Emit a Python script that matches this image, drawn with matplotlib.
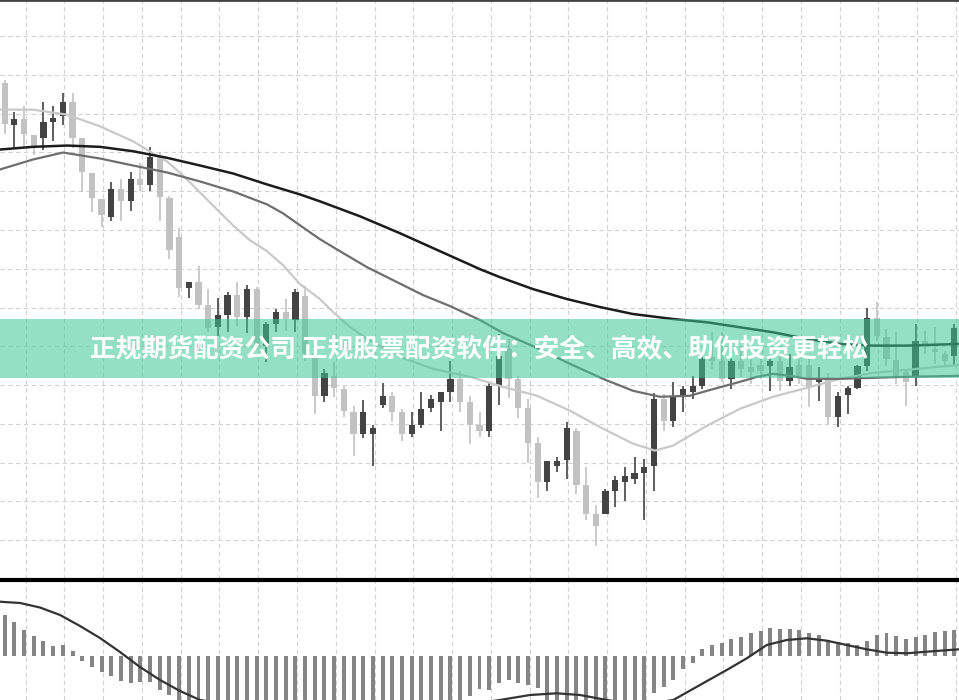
import matplotlib
matplotlib.use('Agg')
import matplotlib.pyplot as plt
import numpy as np

# ---------------- data ----------------
opens  = [517,475,481,465,462,478,484,498,462,426,400,382,410,398,420,414,443,401,362,311,
          317,294,272,284,304,282,310,253,275,287,279,303,245,203,223,210,187,165,165,194,
          203,187,165,174,191,197,207,220,197,174,168,213,250,220,191,156,117,133,139,168,
          113,84,84,107,117,120,126,133,200,178,204,207,213,242,238,220,238,232,234,233,
          238,218,234,234,217,219,182,204,211,233,281,262,239,227,222,258,250,245,243]
highs  = [520,488,494,465,498,494,507,507,462,426,400,417,420,427,436,453,448,403,371,317,
          333,310,301,307,317,314,312,277,290,300,310,313,260,230,237,213,193,199,174,216,
          207,190,187,207,204,207,238,228,203,187,217,265,260,223,200,162,138,142,177,171,
          132,93,109,123,132,142,140,206,205,217,213,223,244,267,267,242,248,240,242,243,
          244,245,240,240,232,226,207,213,234,291,297,270,267,230,275,268,272,248,275]
lows   = [466,453,453,445,450,459,475,452,407,387,372,378,378,388,408,408,378,340,302,301,
          290,267,263,267,273,266,250,237,267,268,267,238,185,197,202,182,143,161,133,191,
          177,158,162,171,187,168,197,187,155,162,162,194,201,181,136,100,107,127,120,104,
          78,52,84,91,97,114,78,107,168,172,187,200,210,230,217,210,222,215,220,208,
          208,213,215,192,198,175,172,185,210,228,258,233,215,193,213,245,235,233,233]
closes = [476,481,466,454,478,482,498,462,427,401,384,410,398,420,414,443,402,349,311,317,
          294,271,284,304,282,310,253,275,287,280,307,245,203,226,211,188,165,187,171,203,
          187,165,174,190,200,207,220,197,174,168,213,243,220,191,156,117,138,138,171,113,
          84,72,107,119,123,126,132,200,178,202,210,213,240,238,220,238,230,227,228,238,
          218,232,221,212,221,182,203,211,233,281,263,240,222,217,258,253,247,238,271]

# moving averages (candle index, price)
ma_long_x = [-0.49,2.92,6.43,9.83,13.24,16.75,20.15,23.56,27.07,30.47,32.54,36.67,40.8,44.92,
             49.05,51.1,54.52,58.03,61.43,64.84,68.97,72.48,75.88,79.29,82.8,86.2,89.6,93.1,98.48]
ma_long_v = [450,452.7,454,452.7,448.3,441.7,434,426,415,405,398,383,366,348,
             330,322,310,300,292,285,280,276.7,271.7,266.7,260,255,253.3,253.3,255]
ma_mid_x = [-0.49,2.92,6.02,9.83,13.24,16.75,20.15,23.56,27.07,28.72,30.47,32.54,34.6,37.39,
            40.07,43.17,45.95,49.05,51.42,54.93,58.34,61.74,64.84,67.63,70.72,72.48,75.88,
            77.64,79.29,81.04,82.8,86.2,89.6,93.1,98.48]
ma_mid_v = [430,440,447,441,434,427,418,408,395,386,374,360,348,332,
            319,304,293,279,266,251,235,220,208,202,203,208,217,
            222,225,223,220,220,221,222,223]
ma_short_x = [-0.49,2.92,6.43,9.83,13.24,15.0,16.75,18.4,20.15,21.9,23.56,25.3,27.07,28.72,
              30.47,32.54,33.88,35.63,37.39,40.8,44.2,48.02,51.42,54.93,58.34,61.74,64.84,
              67.1,68.97,72.48,75.88,79.29,82.8,86.2,89.6,93.1,98.48]
ma_short_v = [490,490,485,473.3,458.3,448,438,424,407,390,374,359,348,334,
              315,300,287,272,260,242,230,222,212,203,188,170,155,
              148,153,173,190,202,211,220,226,229,234]

# MACD histogram
macd_hist = [4.1,3.43,2.6,2.0,1.5,1.0,1.1,0.53,-0.45,-1.13,-1.57,-2.0,-2.47,-2.73,-2.57,-2.6,-3.4,-3.9,-4.6,-5.0,
             -5.4,-5.7,-6.0,-6.2,-6.3,-6.4,-6.4,-6.3,-6.2,-6.1,-6.0,-5.9,-5.8,-5.7,-5.6,-5.5,-5.4,-5.3,-5.2,-5.1,
             -5.0,-4.9,-4.9,-4.8,-4.8,-4.7,-4.7,-4.6,-4.0,-3.33,-3.4,-2.73,-2.4,-2.67,-2.9,-3.17,-4.6,-4.9,-5.1,-5.3,
             -5.4,-5.5,-5.5,-5.4,-5.2,-5.0,-4.7,-3.73,-3.13,-2.4,-1.33,-0.73,0.67,1.1,1.33,1.7,1.87,2.33,2.5,2.83,
             2.7,2.7,2.6,2.33,2.1,1.6,1.43,1.27,1.1,1.53,2.1,2.33,2.0,1.67,1.87,2.1,2.37,2.5,2.6]
sig_x = [-0.49,1.58,3.64,5.71,7.77,9.83,11.9,13.96,16.03,18.09,20.15,28.4,36.67,44.92,51.1,54.21,
         56.97,59.37,62.13,65.56,69.0,71.75,74.51,76.58,78.64,80.71,82.77,84.84,86.9,88.96,91.03,
         93.09,95.15,98.48]
sig_v = [5.43,5.3,4.85,4.1,3.0,1.8,0.4,-1.1,-2.4,-3.5,-4.4,-5.6,-5.9,-5.3,-4.4,-3.9,
         -3.73,-3.9,-4.4,-4.9,-4.4,-2.9,-1.4,-0.23,1.1,1.6,1.77,1.53,1.1,0.67,0.33,
         0.27,0.43,0.67]

banner_text = "正规期货配资公司 正规股票配资软件：安全、高效、助你投资更轻松"

# ---------------- drawing ----------------
W, H = 959, 700
PITCH, X0 = 9.69, 4.7
fig = plt.figure(figsize=(W / 100, H / 100), dpi=100)
fig.patch.set_facecolor('white')
ax = fig.add_axes([0, 121 / H, 1, 579 / H])
axm = fig.add_axes([0, 0, 1, 120 / H])

xlim = (-X0 / PITCH, (W - X0) / PITCH)
idx = np.arange(len(opens))
o = np.array(opens, float); c = np.array(closes, float)
hi = np.array(highs, float); lo = np.array(lows, float)
up = c >= o
DARK, LIGHT = '#434343', '#c2c2c2'
cols = np.where(up, DARK, LIGHT)

ax.vlines(idx, lo, hi, colors=cols, lw=1.2, zorder=2)
body_b = np.minimum(o, c)
body_h = np.maximum(np.abs(c - o), 1.5)
ax.bar(idx, body_h, bottom=body_b, width=0.64, color=cols, lw=0, zorder=3)

ax.plot(ma_short_x, ma_short_v, color='#c9c9c9', lw=1.6, zorder=4, solid_capstyle='round')
ax.plot(ma_mid_x, ma_mid_v, color='#6e6e6e', lw=1.6, zorder=4, solid_capstyle='round')
ax.plot(ma_long_x, ma_long_v, color='#1c1c1c', lw=1.8, zorder=4, solid_capstyle='round')

ax.set_xlim(*xlim)
ax.set_ylim(21, 600)
gx = np.arange(2.167, 99, 4.0)
gy = 600 - (36.2 + 38.9 * np.arange(0, 15))
ax.set_xticks(gx)
ax.set_yticks(gy)
ax.grid(True, linestyle=(0, (4, 3)), color='#d2d2d2', lw=0.8, zorder=0)
ax.tick_params(length=0, labelleft=False, labelbottom=False)
for s in ['left', 'right', 'bottom']:
    ax.spines[s].set_visible(False)
ax.spines['top'].set_color('#444444')
ax.spines['top'].set_linewidth(2)

# banner
ax.axhspan(600 - 379, 600 - 320, color=(0.235, 0.784, 0.588), alpha=0.55, lw=0, zorder=6)
fig.text(479.5 / W, 1 - 350 / H, banner_text, fontsize=18.5, fontweight='bold', color='white',
         family=['Noto Sans CJK SC', 'DejaVu Sans'], ha='center', va='center', zorder=10)

# MACD panel
axm.bar(idx, macd_hist, width=0.41, color='#858585', lw=0, zorder=2)
axm.plot(sig_x, sig_v, color='#333333', lw=1.6, zorder=3)
axm.set_xlim(*xlim)
axm.set_ylim(-4.4, 7.6)
axm.set_xticks(gx)
axm.set_yticks([])
axm.grid(True, axis='x', linestyle=(0, (4, 3)), color='#d2d2d2', lw=0.8, zorder=0)
axm.tick_params(length=0, labelleft=False, labelbottom=False)
for s in ['left', 'right', 'bottom']:
    axm.spines[s].set_visible(False)
axm.spines['top'].set_color('black')
axm.spines['top'].set_linewidth(3)

fig.savefig('out.png', dpi=100, facecolor='white')
